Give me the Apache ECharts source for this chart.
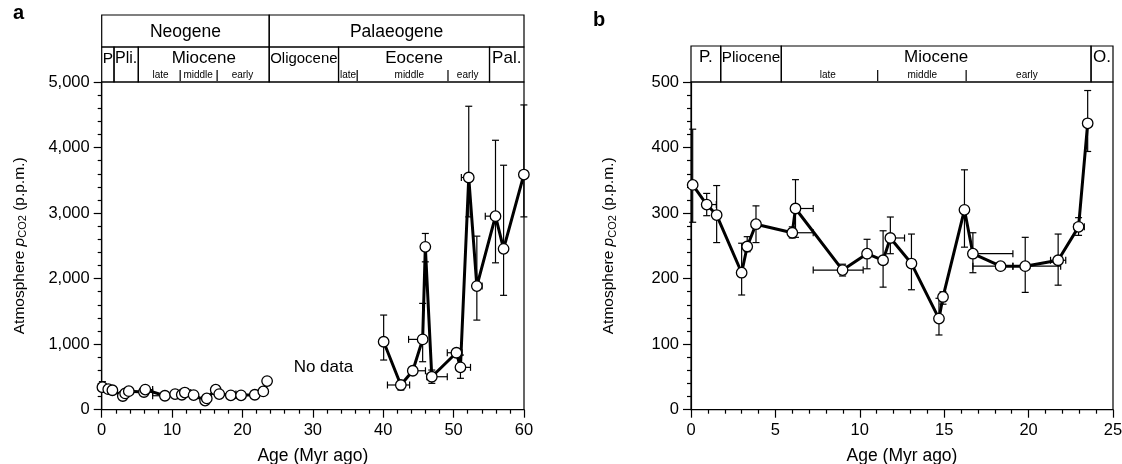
<!DOCTYPE html>
<html><head><meta charset="utf-8">
<script src="https://cdn.jsdelivr.net/npm/echarts@6/dist/echarts.min.js"></script>
<style>html,body{margin:0;padding:0;background:#fff}#c{width:1122px;height:464px}</style>
</head><body><div id="c"></div>
<script>
// ---------------- data ----------------
// Neogene record (shown in panel b and in the left part of panel a)
const neoAge  = [0.1, 0.93, 1.52, 3.0, 3.33, 3.85, 6.0, 6.19, 8.98, 10.43, 11.38, 11.81, 13.06, 14.69, 14.93, 16.2, 16.7, 18.34, 19.8, 21.75, 22.96, 23.5];
const neoCO2  = [343, 313, 297, 209, 249, 283, 270, 307, 213, 238, 228, 262, 223, 139, 172, 305, 238, 219, 219, 228, 279, 437];
const neoLow  = [286, 296, 255, 175, 241, 255, 262, 263, 204, 215, 187, 238, 183, 114, 161, 248, 209, 214, 179, 190, 266, 394];
const neoHigh = [428, 330, 342, 254, 264, 311, 279, 351, 222, 260, 273, 294, 268, 170, 180, 366, 270, 224, 263, 268, 293, 487];
const neoAgeLow  = [null, 0.8, null, null, null, null, 5.8, 6.19, 7.24, null, null, 11.57, null, null, null, null, 16.7, 16.7, 19.07, 21.3, 22.7, null];
const neoAgeHigh = [null, 1.5, null, null, null, null, 7.24, 7.24, 10.2, null, null, 12.65, null, null, null, null, 19.07, 19.07, 21.9, 22.2, 23.3, null];

// Palaeogene record (panel a, right part)
const palAge  = [40.06, 42.5, 44.2, 45.6, 45.98, 46.9, 50.4, 50.97, 52.15, 53.3, 55.95, 57.1, 59.98];
const palCO2  = [1037, 377, 594, 1073, 2485, 503, 869, 646, 3543, 1886, 2953, 2455, 3588];
const palLow  = [758, 300, null, 732, 2256, 402, null, 479, 2942, 1367, 2241, 1745, 2942];
const palHigh = [1444, 427, null, 1622, 2689, 605, null, 834, 4630, 2648, 4111, 3730, 4650];
const palAgeLow  = [null, 40.6, 44.2, 43.6, null, 46.2, 49.1, 50.97, 51.1, 52.9, 54.5, null, null];
const palAgeHigh = [null, 43.75, 46.0, 45.6, null, 49.1, 51.2, 52.4, 52.15, 54.05, 55.95, null, null];

// Axis ticks
const ageTicksA = [0, 10, 20, 30, 40, 50, 60];
const co2TicksA = [0, 1000, 2000, 3000, 4000, 5000];
const ageTicksB = [0, 5, 10, 15, 20, 25];
const co2TicksB = [0, 100, 200, 300, 400, 500];

// Time-scale header, panel a
const periodNamesA  = ['Neogene', 'Palaeogene'];
const periodBoundsA = [0, 23.8, 60];
const epochNamesA   = ['P', 'Pli.', 'Miocene', 'Oligocene', 'Eocene', 'Pal.'];
const epochBoundsA  = [0, 1.75, 5.2, 23.8, 33.65, 55.1, 60];
const subNamesA     = ['late', 'middle', 'early', 'late', 'middle', 'early'];
const subCentersA   = [8.35, 13.7, 20.0, 35.0, 43.7, 52.0];
const subMarksA     = [11.15, 16.4, 36.3, 49.2];
// Time-scale header, panel b
const epochNamesB   = ['P.', 'Pliocene', 'Miocene', 'O.'];
const epochBoundsB  = [0, 1.76, 5.35, 23.7, 25];
const subNamesB     = ['late', 'middle', 'early'];
const subCentersB   = [8.1, 13.7, 19.9];
const subMarksB     = [11.06, 16.3];

const noDataLabel = 'No data';
const noDataPos = [31.5, 650];

// ---------------- chart ----------------
const FONT = "'Liberation Sans', Arial, Helvetica, sans-serif";
const fmt = v => String(v).replace(/\B(?=(\d{3})+(?!\d))/g, ',');
const mctx = document.createElement('canvas').getContext('2d');
function fitSize(text, maxW, size) {
  mctx.font = size + 'px ' + FONT;
  const w = mctx.measureText(text).width;
  return w > maxW ? size * maxW / w : size;
}
const AX = '#000', LW = 1.2;

function errData(age, co2, lo, hi, alo, ahi) {
  return age.map((a, i) => [a, co2[i],
    lo[i] == null ? NaN : lo[i], hi[i] == null ? NaN : hi[i],
    alo[i] == null ? NaN : alo[i], ahi[i] == null ? NaN : ahi[i]]);
}
function renderErr(params, api) {
  const x = api.value(0), y = api.value(1), lo = api.value(2), hi = api.value(3), xl = api.value(4), xh = api.value(5);
  const st = {stroke: '#000', lineWidth: LW, fill: null};
  const ch = [], cap = 3.5;
  const ln = (x1, y1, x2, y2) => ch.push({type: 'line', shape: {x1, y1, x2, y2}, style: st});
  if (isFinite(lo) && isFinite(hi)) {
    const p1 = api.coord([x, hi]), p2 = api.coord([x, lo]);
    ln(p1[0], p1[1], p2[0], p2[1]);
    ln(p1[0] - cap, p1[1], p1[0] + cap, p1[1]);
    ln(p2[0] - cap, p2[1], p2[0] + cap, p2[1]);
  }
  if (isFinite(xl) && isFinite(xh)) {
    const p1 = api.coord([xl, y]), p2 = api.coord([xh, y]);
    ln(p1[0], p1[1], p2[0], p2[1]);
    ln(p1[0], p1[1] - cap, p1[0], p1[1] + cap);
    ln(p2[0], p2[1] - cap, p2[0], p2[1] + cap);
  }
  return {type: 'group', children: ch};
}

const EPOCH_ROW_A = 35, EPOCH_ROW_B = 36;
function headerSeries(xi, names, bounds, rowH, periodNames, periodBounds, subNames, subCenters, subMarks) {
  const out = [];
  const cellStyle = {stroke: '#000', lineWidth: LW, fill: null};
  if (periodNames) {
    out.push({
      type: 'custom', xAxisIndex: xi, yAxisIndex: xi, silent: true, z: 5,
      data: periodNames.map((n, i) => [periodBounds[i], periodBounds[i + 1]]),
      renderItem(params, api) {
        const cs = params.coordSys;
        const x0 = api.coord([api.value(0), 0])[0], x1 = api.coord([api.value(1), 0])[0];
        const h = cs.height - rowH;
        return {type: 'group', children: [
          {type: 'rect', shape: {x: x0, y: cs.y, width: x1 - x0, height: h}, style: cellStyle},
          {type: 'text', style: {text: periodNames[params.dataIndex], x: (x0 + x1) / 2, y: cs.y + h / 2 + 1,
            align: 'center', verticalAlign: 'middle', fontSize: 17.5, fontFamily: FONT, fill: '#000'}}
        ]};
      }
    });
  }
  out.push({
    type: 'custom', xAxisIndex: xi, yAxisIndex: xi, silent: true, z: 5,
    data: names.map((n, i) => [bounds[i], bounds[i + 1]]),
    renderItem(params, api) {
      const cs = params.coordSys;
      const x0 = api.coord([api.value(0), 0])[0], x1 = api.coord([api.value(1), 0])[0];
      const top = cs.y + cs.height - rowH;
      const name = names[params.dataIndex];
      return {type: 'group', children: [
        {type: 'rect', shape: {x: x0, y: top, width: x1 - x0, height: rowH}, style: cellStyle},
        {type: 'text', style: {text: name, x: (x0 + x1) / 2, y: top + 11.5,
          align: 'center', verticalAlign: 'middle', fontSize: fitSize(name, x1 - x0 - 2, 17), fontFamily: FONT, fill: '#000'}}
      ]};
    }
  });
  out.push({
    type: 'custom', xAxisIndex: xi, yAxisIndex: xi, silent: true, z: 5,
    data: subCenters.map(v => [v]),
    renderItem(params, api) {
      const cs = params.coordSys;
      const x = api.coord([api.value(0), 0])[0];
      return {type: 'text', style: {text: subNames[params.dataIndex], x, y: cs.y + cs.height - 6.5,
        align: 'center', verticalAlign: 'middle', fontSize: 10, fontFamily: FONT, fill: '#000'}};
    }
  });
  out.push({
    type: 'custom', xAxisIndex: xi, yAxisIndex: xi, silent: true, z: 5,
    data: subMarks.map(v => [v]),
    renderItem(params, api) {
      const cs = params.coordSys;
      const x = api.coord([api.value(0), 0])[0];
      const b = cs.y + cs.height;
      return {type: 'line', shape: {x1: x, y1: b - 12, x2: x, y2: b - 1}, style: {stroke: '#000', lineWidth: LW}};
    }
  });
  return out;
}

const yName = '{t|Atmosphere }{i|p}{s|CO2}{t| (p.p.m.)}';
const yNameStyle = {color: '#000', fontFamily: FONT, rich: {
  t: {fontSize: 15.5, fontFamily: FONT, color: '#000', lineHeight: 20},
  i: {fontSize: 15.5, fontFamily: FONT, fontStyle: 'italic', color: '#000', lineHeight: 20},
  s: {fontSize: 11, fontFamily: FONT, color: '#000', lineHeight: 20, padding: [7, 0, 0, 0]}
}};

function valAxis(gi, min, max, interval, ticks, extra) {
  return Object.assign({
    gridIndex: gi, type: 'value', min, max, interval,
    axisLine: {show: true, onZero: false, lineStyle: {color: AX, width: LW}},
    axisTick: {show: true, inside: false, length: 8, lineStyle: {color: AX, width: LW}},
    minorTick: {show: true, splitNumber: 5, length: 4, lineStyle: {color: AX, width: LW}},
    splitLine: {show: false}, minorSplitLine: {show: false},
    axisLabel: {color: '#000', fontSize: 16.5, fontFamily: FONT, margin: 12,
      formatter: v => ticks.includes(v) ? fmt(v) : ''}
  }, extra);
}
const hiddenAxis = (gi, min, max) => ({gridIndex: gi, type: 'value', min, max, show: false});
const xName = {name: 'Age (Myr ago)', nameLocation: 'middle', nameGap: 37,
  nameTextStyle: {fontSize: 17.5, fontFamily: FONT, color: '#000'}};
const gridBase = {outerBoundsMode: 'none', containLabel: false};

const option = {
  animation: false,
  backgroundColor: '#fff',
  title: [
    {text: 'a', left: 8, top: -2, textStyle: {fontSize: 20, fontWeight: 'bold', fontFamily: FONT, color: '#000'}},
    {text: 'b', left: 588, top: 5, textStyle: {fontSize: 20, fontWeight: 'bold', fontFamily: FONT, color: '#000'}}
  ],
  grid: [
    Object.assign({left: 101.7, top: 82, width: 422.3, height: 327.7, show: true, borderColor: '#000', borderWidth: LW, backgroundColor: 'transparent'}, gridBase),
    Object.assign({left: 691, top: 82, width: 422, height: 327.7, show: true, borderColor: '#000', borderWidth: LW, backgroundColor: 'transparent'}, gridBase),
    Object.assign({left: 101.7, top: 15, width: 422.3, height: 67}, gridBase),
    Object.assign({left: 691, top: 46, width: 422, height: 36}, gridBase)
  ],
  xAxis: [
    valAxis(0, 0, 60, 10, ageTicksA, xName),
    valAxis(1, 0, 25, 5, ageTicksB, xName),
    hiddenAxis(2, 0, 60),
    hiddenAxis(3, 0, 25)
  ],
  yAxis: [
    valAxis(0, 0, 5000, 1000, co2TicksA, {name: yName, nameLocation: 'middle', nameGap: 72, nameTextStyle: yNameStyle}),
    valAxis(1, 0, 500, 100, co2TicksB, {name: yName, nameLocation: 'middle', nameGap: 72, nameTextStyle: yNameStyle}),
    hiddenAxis(2, 0, 1),
    hiddenAxis(3, 0, 1)
  ],
  series: [
    {type: 'custom', xAxisIndex: 0, yAxisIndex: 0, silent: true, z: 2, renderItem: renderErr,
      data: errData(neoAge, neoCO2, neoLow, neoHigh, neoAgeLow, neoAgeHigh)},
    {type: 'custom', xAxisIndex: 0, yAxisIndex: 0, silent: true, z: 2, renderItem: renderErr,
      data: errData(palAge, palCO2, palLow, palHigh, palAgeLow, palAgeHigh)},
    {type: 'custom', xAxisIndex: 1, yAxisIndex: 1, silent: true, z: 2, renderItem: renderErr,
      data: errData(neoAge, neoCO2, neoLow, neoHigh, neoAgeLow, neoAgeHigh)},
    ...[[0, neoAge, neoCO2], [0, palAge, palCO2], [1, neoAge, neoCO2]].map(([g, a, c]) => ({
      type: 'line', xAxisIndex: g, yAxisIndex: g, z: 3, silent: true,
      data: a.map((v, i) => [v, c[i]]),
      symbol: 'circle', symbolSize: 10.5, showAllSymbol: true,
      itemStyle: {color: '#fff', borderColor: '#000', borderWidth: 1.3},
      lineStyle: {color: '#000', width: 3}, emphasis: {disabled: true}
    })),
    {type: 'custom', xAxisIndex: 0, yAxisIndex: 0, silent: true, z: 4, data: [noDataPos],
      renderItem(params, api) {
        const p = api.coord([api.value(0), api.value(1)]);
        return {type: 'text', style: {text: noDataLabel, x: p[0], y: p[1], align: 'center', verticalAlign: 'middle',
          fontSize: 17, fontFamily: FONT, fill: '#000'}};
      }},
    ...headerSeries(2, epochNamesA, epochBoundsA, EPOCH_ROW_A, periodNamesA, periodBoundsA, subNamesA, subCentersA, subMarksA),
    ...headerSeries(3, epochNamesB, epochBoundsB, EPOCH_ROW_B, null, null, subNamesB, subCentersB, subMarksB)
  ]
};
const chart = echarts.init(document.getElementById('c'), null, {renderer: 'canvas'});
chart.setOption(option);
</script>
</body></html>
